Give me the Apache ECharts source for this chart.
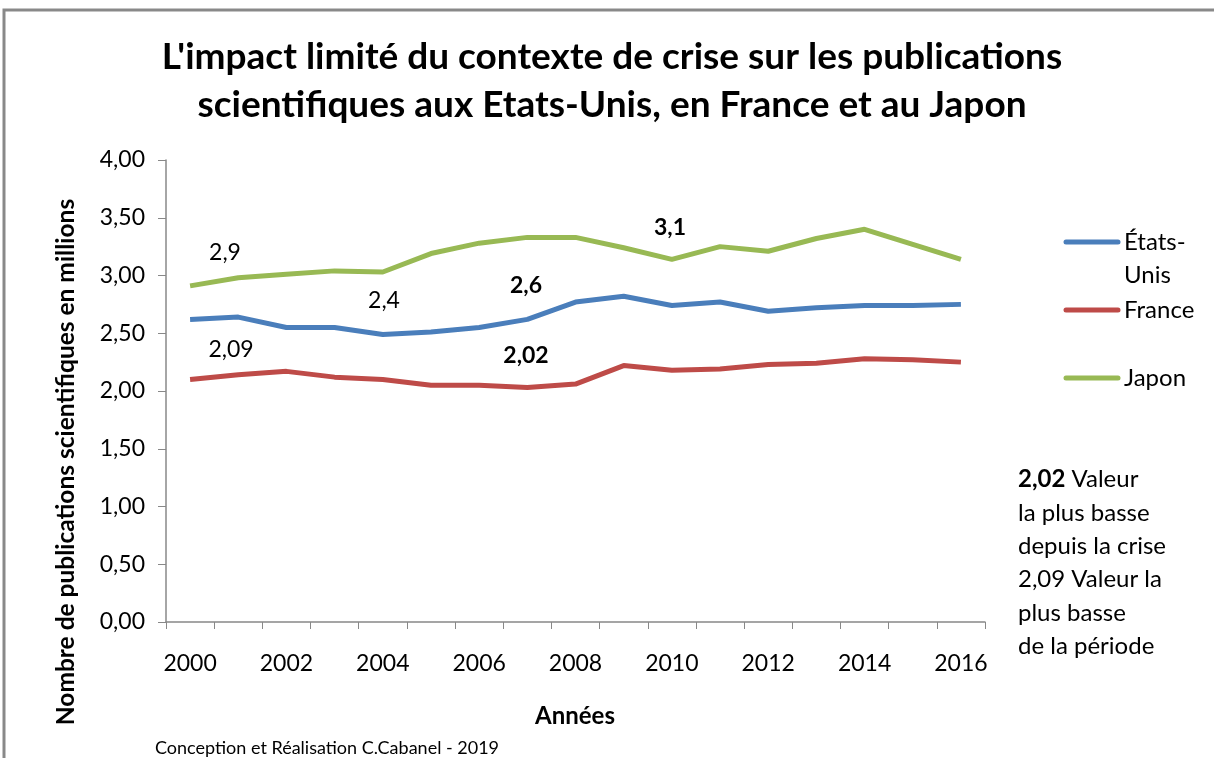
<!DOCTYPE html>
<html><head><meta charset="utf-8">
<script src="https://cdn.jsdelivr.net/npm/echarts@6/dist/echarts.min.js"></script>
<style>html,body{margin:0;padding:0;background:#fff}#c{width:1214px;height:758px}</style>
</head><body><div id="c"></div>
<script>
const years = ['2000','2001','2002','2003','2004','2005','2006','2007','2008','2009','2010','2011','2012','2013','2014','2015','2016'];
const etatsUnis = [2.62,2.64,2.55,2.55,2.49,2.51,2.55,2.62,2.77,2.82,2.74,2.77,2.69,2.72,2.74,2.74,2.75];
const france = [2.10,2.14,2.17,2.12,2.10,2.05,2.05,2.03,2.06,2.22,2.18,2.19,2.23,2.24,2.28,2.27,2.25];
const japon = [2.91,2.98,3.01,3.04,3.03,3.19,3.28,3.33,3.33,3.24,3.14,3.25,3.21,3.32,3.40,3.27,3.14];
const seriesNames = ['États-Unis','France','Japon'];
const colors = ['#4A7EBB','#BE4B48','#98B954'];
const FONT = 'Lato';

const chart = echarts.init(document.getElementById('c'));
const legendY = [242, 310, 378];
const legendLabels = ['États-\nUnis','France','Japon'];
const graphics = [
  {type:'rect', shape:{x:4,y:10,width:1300,height:800}, style:{fill:'none',stroke:'#898989',lineWidth:3}, silent:true},
  {type:'text', x:612, y:33, style:{text:"L'impact limité du contexte de crise sur les publications\nscientifiques aux Etats-Unis, en France et au Japon", font:'bold 37px '+FONT, fill:'#000', align:'center', verticalAlign:'top', lineHeight:48}},
  {type:'text', x:66, y:462, rotation:Math.PI/2, style:{text:'Nombre de publications scientifiques en millions', font:'bold 24.5px '+FONT, fill:'#000', align:'center', verticalAlign:'middle'}},
  {type:'text', x:575, y:716, style:{text:'Années', font:'bold 24px '+FONT, fill:'#000', align:'center', verticalAlign:'middle'}},
  {type:'text', x:155, y:748, style:{text:'Conception et Réalisation C.Cabanel - 2019', font:'18px '+FONT, fill:'#000', align:'left', verticalAlign:'middle'}},
  {type:'text', x:1018, y:463, style:{text:'{b|2,02} Valeur\nla plus basse\ndepuis la crise\n2,09 Valeur la\nplus basse\nde la période', font:'24px '+FONT, fill:'#000', lineHeight:33.3, rich:{b:{font:'bold 24px '+FONT, fill:'#000', lineHeight:33.3}}}},
  // annotations
  {type:'text', x:225, y:253, style:{text:'2,9', font:'23px '+FONT, fill:'#000', align:'center', verticalAlign:'middle'}},
  {type:'text', x:231, y:350, style:{text:'2,09', font:'23px '+FONT, fill:'#000', align:'center', verticalAlign:'middle'}},
  {type:'text', x:384, y:301, style:{text:'2,4', font:'23px '+FONT, fill:'#000', align:'center', verticalAlign:'middle'}},
  {type:'text', x:526, y:286, style:{text:'2,6', font:'bold 23px '+FONT, fill:'#000', align:'center', verticalAlign:'middle'}},
  {type:'text', x:526, y:356, style:{text:'2,02', font:'bold 23px '+FONT, fill:'#000', align:'center', verticalAlign:'middle'}},
  {type:'text', x:670, y:228, style:{text:'3,1', font:'bold 23px '+FONT, fill:'#000', align:'center', verticalAlign:'middle'}}
];
seriesNames.forEach((n,i)=>{
  graphics.push({type:'line', shape:{x1:1066,y1:legendY[i],x2:1118,y2:legendY[i]}, style:{stroke:colors[i],lineWidth:5,lineCap:'round'}});
  graphics.push({type:'text', x:1124, y:legendY[i]-16.5, style:{text:legendLabels[i], font:'24px '+FONT, fill:'#000', lineHeight:33, verticalAlign:'top'}});
});

chart.setOption({
  animation:false,
  textStyle:{fontFamily:FONT},
  grid:{left:166, right:229, top:160, bottom:136, containLabel:false},
  xAxis:{type:'category', data:years, boundaryGap:true,
    axisLine:{lineStyle:{color:'#888',width:1.5}},
    axisTick:{show:true, interval:0, length:7, lineStyle:{color:'#888'}},
    axisLabel:{interval:1, color:'#000', fontSize:23, margin:30, fontFamily:FONT},
    splitLine:{show:false}},
  yAxis:{type:'value', min:0, max:4, interval:0.5,
    axisLine:{show:true, lineStyle:{color:'#888',width:1.5}},
    axisTick:{show:true, length:8, lineStyle:{color:'#888'}},
    axisLabel:{color:'#000', fontSize:23, margin:21, fontFamily:FONT, formatter:v=>v.toFixed(2).replace('.',',')},
    splitLine:{show:false}},
  graphic:graphics,
  series:[
    {name:seriesNames[0], type:'line', data:etatsUnis, symbol:'none', lineStyle:{color:colors[0],width:5}, itemStyle:{color:colors[0]}},
    {name:seriesNames[1], type:'line', data:france, symbol:'none', lineStyle:{color:colors[1],width:5}, itemStyle:{color:colors[1]}},
    {name:seriesNames[2], type:'line', data:japon, symbol:'none', lineStyle:{color:colors[2],width:5}, itemStyle:{color:colors[2]}}
  ]
});
</script></body></html>
